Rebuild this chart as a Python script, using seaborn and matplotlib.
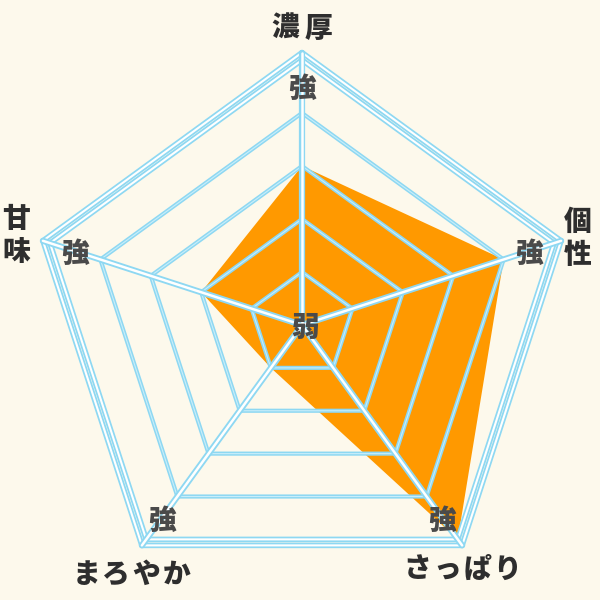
import numpy as np
import matplotlib
matplotlib.use('Agg')
import matplotlib.pyplot as plt
import seaborn as sns

# categories, clockwise from the top
categories = ['濃厚', '個性', 'さっぱり', 'まろやか', '甘味']
values = [3, 4, 5, 1, 2]
levels = [1, 2, 3, 4, 5]
strong_label = '強'
weak_label = '弱'

BG = '#FDF9EC'
ORANGE = '#FF9900'
BLUE = '#8ED8F2'
TEXT = '#2E2E2E'
TEXT2 = '#4A4A4A'

sns.set_theme(style='white')
plt.rcParams['font.family'] = ['Noto Sans CJK JP', 'DejaVu Sans']

n = len(categories)
angles = np.pi / 2 - np.arange(n) * 2 * np.pi / n
UNIT = 53.0  # pixels per value step


def ring(r):
    xs = np.append(r * np.cos(angles), r * np.cos(angles[0]))
    ys = np.append(r * np.sin(angles), r * np.sin(angles[0]))
    return xs, ys


def glow_line(ax, xs, ys, w_out=4.5, w_in=1.6, z=3):
    ax.plot(xs, ys, color=BLUE, lw=w_out, solid_capstyle='round',
            solid_joinstyle='round', zorder=z)
    ax.plot(xs, ys, color='white', lw=w_in, solid_capstyle='round',
            solid_joinstyle='round', zorder=z + 0.1)


def spaced_text(ax, x, y, s, pitch, vertical=False, **kw):
    # place characters one by one with a fixed pitch (letter spacing)
    k = len(s)
    for i, ch in enumerate(s):
        off = (i - (k - 1) / 2) * pitch
        if vertical:
            ax.text(x, y - off, ch, ha='center', va='center', **kw)
        else:
            ax.text(x + off, y, ch, ha='center', va='center', **kw)


fig = plt.figure(figsize=(6, 6), dpi=100, facecolor=BG)
ax = fig.add_axes([0, 0, 1, 1])
ax.set_facecolor(BG)
ax.set_xlim(-302 / UNIT, 298 / UNIT)
ax.set_ylim(-275 / UNIT, 325 / UNIT)
ax.set_aspect('equal')
ax.axis('off')

# data polygon
vx = np.array(values) * np.cos(angles)
vy = np.array(values) * np.sin(angles)
ax.fill(vx, vy, color=ORANGE, lw=0, zorder=1)

# inner levels
for lv in levels[:-1]:
    xs, ys = ring(lv)
    ax.plot(xs, ys, color=BLUE, lw=3.0, solid_joinstyle='round', zorder=3)
    ax.plot(xs, ys, color='#C9EEFA', lw=0.8, solid_joinstyle='round', zorder=3.1)

# outer double line
outer = levels[-1]
for r in (outer, outer + 0.14):
    xs, ys = ring(r)
    glow_line(ax, xs, ys, w_out=4.0, w_in=1.5)

# spokes
for a in angles:
    glow_line(ax, [0, (outer + 0.14) * np.cos(a)], [0, (outer + 0.14) * np.sin(a)],
              w_out=4.5, w_in=1.8, z=4)

# 強 labels
for a in angles:
    r = 4.5
    ax.text(r * np.cos(a), r * np.sin(a) - 0.05, strong_label, ha='center', va='center',
            fontsize=20, fontweight=900, color=TEXT2, zorder=6)
ax.text(0.05, -0.05, weak_label, ha='center', va='center',
        fontsize=20, fontweight=900, color=TEXT2, zorder=6)

# category labels
R = outer + 0.14
offsets = [(0.0, 0.45), (0.32, 0.05), (0.0, -0.45), (-0.2, -0.55), (-0.5, 0.1)]
vertical = [False, True, False, False, True]
pitches = [33, 33, 30, 30, 33]
txt_kw = dict(fontsize=20, fontweight=900, color=TEXT, zorder=6)
for lab, a, (dx, dy), vert, p in zip(categories, angles, offsets, vertical, pitches):
    x = R * np.cos(a) + dx
    y = R * np.sin(a) + dy
    spaced_text(ax, x, y, lab, p / UNIT, vertical=vert, **txt_kw)

fig.savefig('out.png', dpi=100, facecolor=BG)
